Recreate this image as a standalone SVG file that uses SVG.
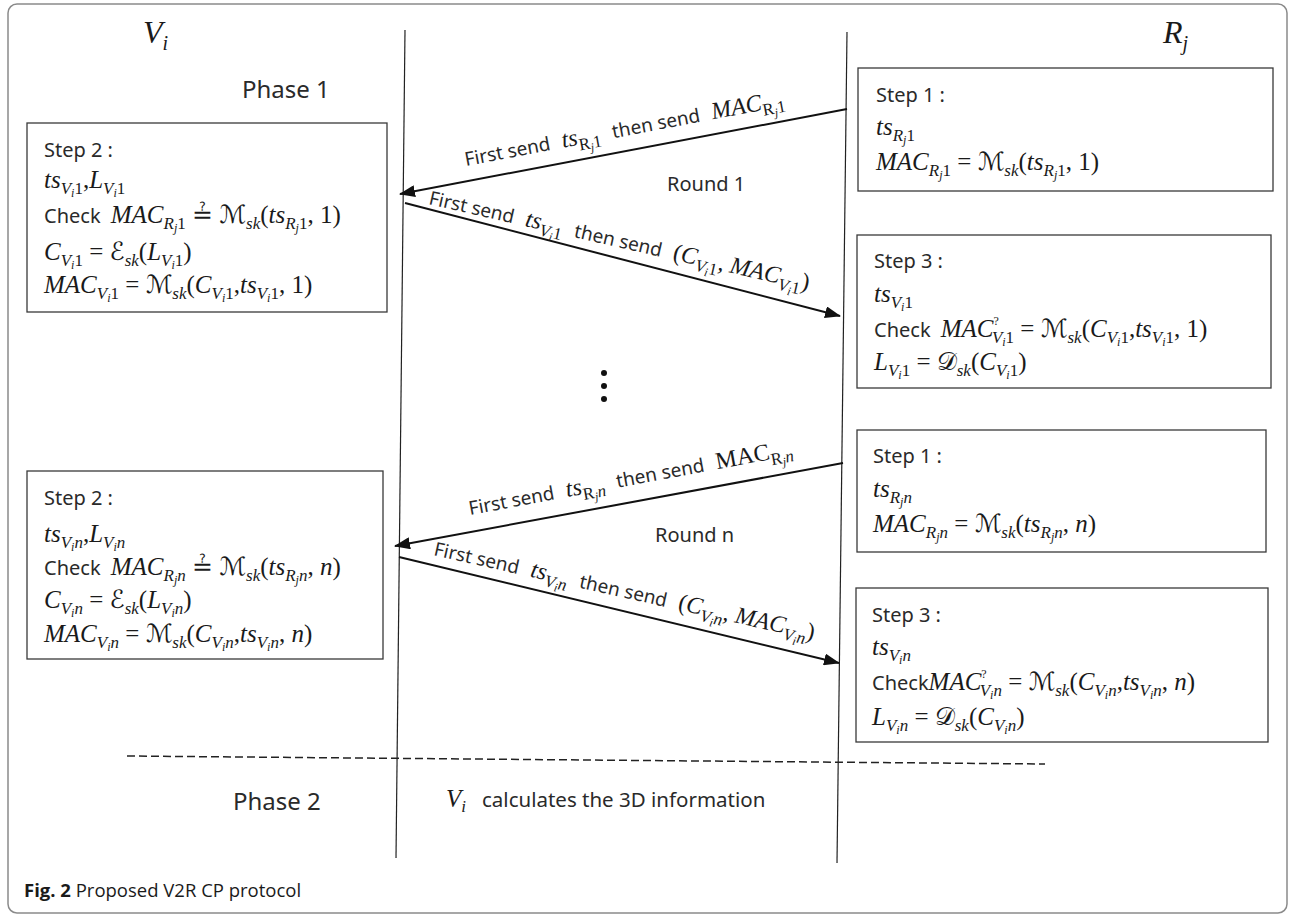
<svg xmlns="http://www.w3.org/2000/svg" width="1292" height="917" viewBox="0 0 1292 917">
<defs>
<style>
.t{font-family:"Noto Sans",sans-serif;font-size:20px;font-style:normal;fill:#2a2a2a}
.w{font-family:"Noto Sans",sans-serif;font-size:19px;font-style:normal;fill:#2a2a2a}
.ph{font-family:"Noto Sans",sans-serif;font-size:24px;fill:#2a2a2a}
.m{font-family:"Liberation Serif","DejaVu Serif",serif;font-style:italic;font-size:25px;fill:#1a1a1a}
.u{font-style:normal}
.s1{font-size:17px}
.s2{font-size:12px}
.sc{font-family:"DejaVu Serif","DejaVu Sans","Noto Sans",serif;font-style:normal}
.box{fill:#fff;stroke:#3a3a3a;stroke-width:1.3}
.life{stroke:#222;stroke-width:1.2;fill:none}
.arr{stroke:#111;stroke-width:2;fill:none;marker-end:url(#ah)}
</style>
<marker id="ah" markerUnits="userSpaceOnUse" markerWidth="16" markerHeight="12" refX="15" refY="6" orient="auto">
<path d="M0,0 L16,6 L0,12 Z" fill="#111"/>
</marker>
</defs>
<rect x="8" y="4" width="1279" height="909" rx="9" fill="#fff" stroke="#8a8a8a" stroke-width="1.5"/>

<g id="lifelines">
<line class="life" x1="405" y1="30" x2="396" y2="858"/>
<line class="life" x1="847" y1="32" x2="837" y2="863"/>
</g>

<g id="labels">
<text class="m" x="143" y="43" style="font-size:32px">V<tspan style="font-size:20px" dy="7">i</tspan></text>
<text class="m" x="1163" y="43" style="font-size:32px">R<tspan style="font-size:20px" dy="7">j</tspan></text>
<text class="ph" x="242" y="98">Phase 1</text>
<text class="ph" x="233" y="810">Phase 2</text>
<text class="t" x="667" y="191">Round 1</text>
<text class="t" x="655" y="542">Round n</text>
<text class="m" x="446" y="807">V<tspan class="s1" dy="5">i</tspan></text>
<text class="t" x="482" y="807" style="font-size:20.5px">calculates the 3D information</text>
<circle cx="604" cy="373" r="3" fill="#111"/>
<circle cx="604" cy="386" r="3" fill="#111"/>
<circle cx="604" cy="399" r="3" fill="#111"/>
<line x1="127" y1="756" x2="1045" y2="764" stroke="#222" stroke-width="1.5" stroke-dasharray="8 4"/>
<text x="24" y="897" font-family="Open Sans, sans-serif" font-size="18.5" fill="#1a1a1a"><tspan font-weight="bold">Fig. 2</tspan> Proposed V2R CP protocol</text>
</g>

<g id="step2-round1">
<rect class="box" x="27" y="123" width="360" height="189"/>
<text class="t" x="44" y="157">Step 2 :</text>
<text class="m" x="44" y="188">ts<tspan class="s1" dy="6">V</tspan><tspan class="s2" dy="3">i</tspan><tspan class="s1 u" dy="-3">1</tspan><tspan class="u" dy="-6">,</tspan>L<tspan class="s1" dy="6">V</tspan><tspan class="s2" dy="3">i</tspan><tspan class="s1 u" dy="-3">1</tspan></text>
<text class="m" x="44" y="223"><tspan class="t">Check </tspan><tspan dx="5">MAC</tspan><tspan class="s1" dy="6">R</tspan><tspan class="s2" dy="3">j</tspan><tspan class="s1 u" dy="-3">1</tspan><tspan class="u" dy="-6"> ≟ </tspan><tspan class="sc">ℳ</tspan><tspan class="s1" dy="6">sk</tspan><tspan class="u" dy="-6">(</tspan>ts<tspan class="s1" dy="6">R</tspan><tspan class="s2" dy="3">j</tspan><tspan class="s1 u" dy="-3">1</tspan><tspan class="u" dy="-6">, 1)</tspan></text>
<text class="m" x="44" y="260">C<tspan class="s1" dy="6">V</tspan><tspan class="s2" dy="3">i</tspan><tspan class="s1 u" dy="-3">1</tspan><tspan class="u" dy="-6"> = </tspan><tspan class="sc">ℰ</tspan><tspan class="s1" dy="6">sk</tspan><tspan class="u" dy="-6">(</tspan>L<tspan class="s1" dy="6">V</tspan><tspan class="s2" dy="3">i</tspan><tspan class="s1 u" dy="-3">1</tspan><tspan class="u" dy="-6">)</tspan></text>
<text class="m" x="44" y="293">MAC<tspan class="s1" dy="6">V</tspan><tspan class="s2" dy="3">i</tspan><tspan class="s1 u" dy="-3">1</tspan><tspan class="u" dy="-6"> = </tspan><tspan class="sc">ℳ</tspan><tspan class="s1" dy="6">sk</tspan><tspan class="u" dy="-6">(</tspan>C<tspan class="s1" dy="6">V</tspan><tspan class="s2" dy="3">i</tspan><tspan class="s1 u" dy="-3">1</tspan><tspan class="u" dy="-6">,</tspan>ts<tspan class="s1" dy="6">V</tspan><tspan class="s2" dy="3">i</tspan><tspan class="s1 u" dy="-3">1</tspan><tspan class="u" dy="-6">, 1)</tspan></text>
</g>

<g id="step1-round1">
<rect class="box" x="858" y="68" width="415" height="123"/>
<text class="t" x="876" y="102">Step 1 :</text>
<text class="m" x="876" y="135">ts<tspan class="s1" dy="6">R</tspan><tspan class="s2" dy="3">j</tspan><tspan class="s1 u" dy="-3">1</tspan></text>
<text class="m" x="876" y="170">MAC<tspan class="s1" dy="6">R</tspan><tspan class="s2" dy="3">j</tspan><tspan class="s1 u" dy="-3">1</tspan><tspan class="u" dy="-6"> = </tspan><tspan class="sc">ℳ</tspan><tspan class="s1" dy="6">sk</tspan><tspan class="u" dy="-6">(</tspan>ts<tspan class="s1" dy="6">R</tspan><tspan class="s2" dy="3">j</tspan><tspan class="s1 u" dy="-3">1</tspan><tspan class="u" dy="-6">, 1)</tspan></text>
</g>

<g id="step3-round1">
<rect class="box" x="857" y="235" width="414" height="153"/>
<text class="t" x="874" y="268">Step 3 :</text>
<text class="m" x="874" y="302">ts<tspan class="s1" dy="6">V</tspan><tspan class="s2" dy="3">i</tspan><tspan class="s1 u" dy="-3">1</tspan></text>
<text class="m" x="874" y="337"><tspan class="t">Check </tspan><tspan dx="5">MAC</tspan><tspan class="s2 u" dy="-12">?</tspan><tspan class="s1" dx="-7" dy="18">V</tspan><tspan class="s2" dy="3">i</tspan><tspan class="s1 u" dy="-3">1</tspan><tspan class="u" dy="-6"> = </tspan><tspan class="sc">ℳ</tspan><tspan class="s1" dy="6">sk</tspan><tspan class="u" dy="-6">(</tspan>C<tspan class="s1" dy="6">V</tspan><tspan class="s2" dy="3">i</tspan><tspan class="s1 u" dy="-3">1</tspan><tspan class="u" dy="-6">,</tspan>ts<tspan class="s1" dy="6">V</tspan><tspan class="s2" dy="3">i</tspan><tspan class="s1 u" dy="-3">1</tspan><tspan class="u" dy="-6">, 1)</tspan></text>
<text class="m" x="874" y="370">L<tspan class="s1" dy="6">V</tspan><tspan class="s2" dy="3">i</tspan><tspan class="s1 u" dy="-3">1</tspan><tspan class="u" dy="-6"> = </tspan><tspan class="sc">𝒟</tspan><tspan class="s1" dy="6">sk</tspan><tspan class="u" dy="-6">(</tspan>C<tspan class="s1" dy="6">V</tspan><tspan class="s2" dy="3">i</tspan><tspan class="s1 u" dy="-3">1</tspan><tspan class="u" dy="-6">)</tspan></text>
</g>

<g id="step2-roundn">
<rect class="box" x="27" y="471" width="356" height="188"/>
<text class="t" x="44" y="505">Step 2 :</text>
<text class="m" x="44" y="542">ts<tspan class="s1" dy="6">V</tspan><tspan class="s2" dy="3">i</tspan><tspan class="s1" dy="-3">n</tspan><tspan class="u" dy="-6">,</tspan>L<tspan class="s1" dy="6">V</tspan><tspan class="s2" dy="3">i</tspan><tspan class="s1" dy="-3">n</tspan></text>
<text class="m" x="44" y="575"><tspan class="t">Check </tspan><tspan dx="5">MAC</tspan><tspan class="s1" dy="6">R</tspan><tspan class="s2" dy="3">j</tspan><tspan class="s1" dy="-3">n</tspan><tspan class="u" dy="-6"> ≟ </tspan><tspan class="sc">ℳ</tspan><tspan class="s1" dy="6">sk</tspan><tspan class="u" dy="-6">(</tspan>ts<tspan class="s1" dy="6">R</tspan><tspan class="s2" dy="3">j</tspan><tspan class="s1" dy="-3">n</tspan><tspan class="u" dy="-6">, </tspan>n<tspan class="u">)</tspan></text>
<text class="m" x="44" y="608">C<tspan class="s1" dy="6">V</tspan><tspan class="s2" dy="3">i</tspan><tspan class="s1" dy="-3">n</tspan><tspan class="u" dy="-6"> = </tspan><tspan class="sc">ℰ</tspan><tspan class="s1" dy="6">sk</tspan><tspan class="u" dy="-6">(</tspan>L<tspan class="s1" dy="6">V</tspan><tspan class="s2" dy="3">i</tspan><tspan class="s1" dy="-3">n</tspan><tspan class="u" dy="-6">)</tspan></text>
<text class="m" x="44" y="642">MAC<tspan class="s1" dy="6">V</tspan><tspan class="s2" dy="3">i</tspan><tspan class="s1" dy="-3">n</tspan><tspan class="u" dy="-6"> = </tspan><tspan class="sc">ℳ</tspan><tspan class="s1" dy="6">sk</tspan><tspan class="u" dy="-6">(</tspan>C<tspan class="s1" dy="6">V</tspan><tspan class="s2" dy="3">i</tspan><tspan class="s1" dy="-3">n</tspan><tspan class="u" dy="-6">,</tspan>ts<tspan class="s1" dy="6">V</tspan><tspan class="s2" dy="3">i</tspan><tspan class="s1" dy="-3">n</tspan><tspan class="u" dy="-6">, </tspan>n<tspan class="u">)</tspan></text>
</g>

<g id="step1-roundn">
<rect class="box" x="857" y="430" width="409" height="122"/>
<text class="t" x="873" y="463">Step 1 :</text>
<text class="m" x="873" y="497">ts<tspan class="s1" dy="6">R</tspan><tspan class="s2" dy="3">j</tspan><tspan class="s1" dy="-3">n</tspan></text>
<text class="m" x="873" y="532">MAC<tspan class="s1" dy="6">R</tspan><tspan class="s2" dy="3">j</tspan><tspan class="s1" dy="-3">n</tspan><tspan class="u" dy="-6"> = </tspan><tspan class="sc">ℳ</tspan><tspan class="s1" dy="6">sk</tspan><tspan class="u" dy="-6">(</tspan>ts<tspan class="s1" dy="6">R</tspan><tspan class="s2" dy="3">j</tspan><tspan class="s1" dy="-3">n</tspan><tspan class="u" dy="-6">, </tspan>n<tspan class="u">)</tspan></text>
</g>

<g id="step3-roundn">
<rect class="box" x="856" y="588" width="412" height="154"/>
<text class="t" x="872" y="622">Step 3 :</text>
<text class="m" x="872" y="655">ts<tspan class="s1" dy="6">V</tspan><tspan class="s2" dy="3">i</tspan><tspan class="s1" dy="-3">n</tspan></text>
<text class="m" x="872" y="690"><tspan class="t">Check</tspan>MAC<tspan class="s2 u" dy="-12">?</tspan><tspan class="s1" dx="-7" dy="18">V</tspan><tspan class="s2" dy="3">i</tspan><tspan class="s1" dy="-3">n</tspan><tspan class="u" dy="-6"> = </tspan><tspan class="sc">ℳ</tspan><tspan class="s1" dy="6">sk</tspan><tspan class="u" dy="-6">(</tspan>C<tspan class="s1" dy="6">V</tspan><tspan class="s2" dy="3">i</tspan><tspan class="s1" dy="-3">n</tspan><tspan class="u" dy="-6">,</tspan>ts<tspan class="s1" dy="6">V</tspan><tspan class="s2" dy="3">i</tspan><tspan class="s1" dy="-3">n</tspan><tspan class="u" dy="-6">, </tspan>n<tspan class="u">)</tspan></text>
<text class="m" x="872" y="725">L<tspan class="s1" dy="6">V</tspan><tspan class="s2" dy="3">i</tspan><tspan class="s1" dy="-3">n</tspan><tspan class="u" dy="-6"> = </tspan><tspan class="sc">𝒟</tspan><tspan class="s1" dy="6">sk</tspan><tspan class="u" dy="-6">(</tspan>C<tspan class="s1" dy="6">V</tspan><tspan class="s2" dy="3">i</tspan><tspan class="s1" dy="-3">n</tspan><tspan class="u" dy="-6">)</tspan></text>
</g>

<g id="connectors">
<line class="arr" x1="847" y1="109" x2="400" y2="194"/>
<line class="arr" x1="405" y1="203" x2="840" y2="316"/>
<line class="arr" x1="843" y1="463" x2="395" y2="546"/>
<line class="arr" x1="399" y1="557" x2="839" y2="663"/>
<text class="m" transform="translate(466,166) rotate(-10.7)" style="font-size:24px"><tspan class="w">First send</tspan><tspan dx="12">ts</tspan><tspan class="s1 u" dy="6">R</tspan><tspan class="s2" dy="3">j</tspan><tspan class="s1 u" dy="-3">1</tspan><tspan class="w" dy="-6" dx="12">then send</tspan><tspan dx="12">MAC</tspan><tspan class="s1 u" dy="6">R</tspan><tspan class="s2" dy="3">j</tspan><tspan class="s1 u" dy="-3">1</tspan></text>
<text class="m" transform="translate(428,204) rotate(12.8)" style="font-size:24px"><tspan class="w">First send</tspan><tspan dx="12">ts</tspan><tspan class="s1" dy="6">V</tspan><tspan class="s2" dy="3">i</tspan><tspan class="s1 u" dy="-3">1</tspan><tspan class="w" dy="-6" dx="12">then send</tspan><tspan class="u" dx="12">(</tspan>C<tspan class="s1" dy="6">V</tspan><tspan class="s2" dy="3">i</tspan><tspan class="s1 u" dy="-3">1</tspan><tspan class="u" dy="-6">, </tspan>MAC<tspan class="s1" dy="6">V</tspan><tspan class="s2" dy="3">i</tspan><tspan class="s1 u" dy="-3">1</tspan><tspan class="u" dy="-6">)</tspan></text>
<text class="m" transform="translate(470,515) rotate(-10.5)" style="font-size:24px"><tspan class="w">First send</tspan><tspan dx="12">ts</tspan><tspan class="s1 u" dy="6">R</tspan><tspan class="s2" dy="3">j</tspan><tspan class="s1" dy="-3">n</tspan><tspan class="w" dy="-6" dx="12">then send</tspan><tspan class="u" dx="12">MAC</tspan><tspan class="s1 u" dy="6">R</tspan><tspan class="s2" dy="3">j</tspan><tspan class="s1" dy="-3">n</tspan></text>
<text class="m" transform="translate(433,555) rotate(12.6)" style="font-size:24px"><tspan class="w">First send</tspan><tspan dx="12">ts</tspan><tspan class="s1" dy="6">V</tspan><tspan class="s2" dy="3">i</tspan><tspan class="s1" dy="-3">n</tspan><tspan class="w" dy="-6" dx="12">then send</tspan><tspan class="u" dx="12">(</tspan>C<tspan class="s1" dy="6">V</tspan><tspan class="s2" dy="3">i</tspan><tspan class="s1" dy="-3">n</tspan><tspan class="u" dy="-6">, </tspan>MAC<tspan class="s1" dy="6">V</tspan><tspan class="s2" dy="3">i</tspan><tspan class="s1" dy="-3">n</tspan><tspan class="u" dy="-6">)</tspan></text>
</g>
</svg>
